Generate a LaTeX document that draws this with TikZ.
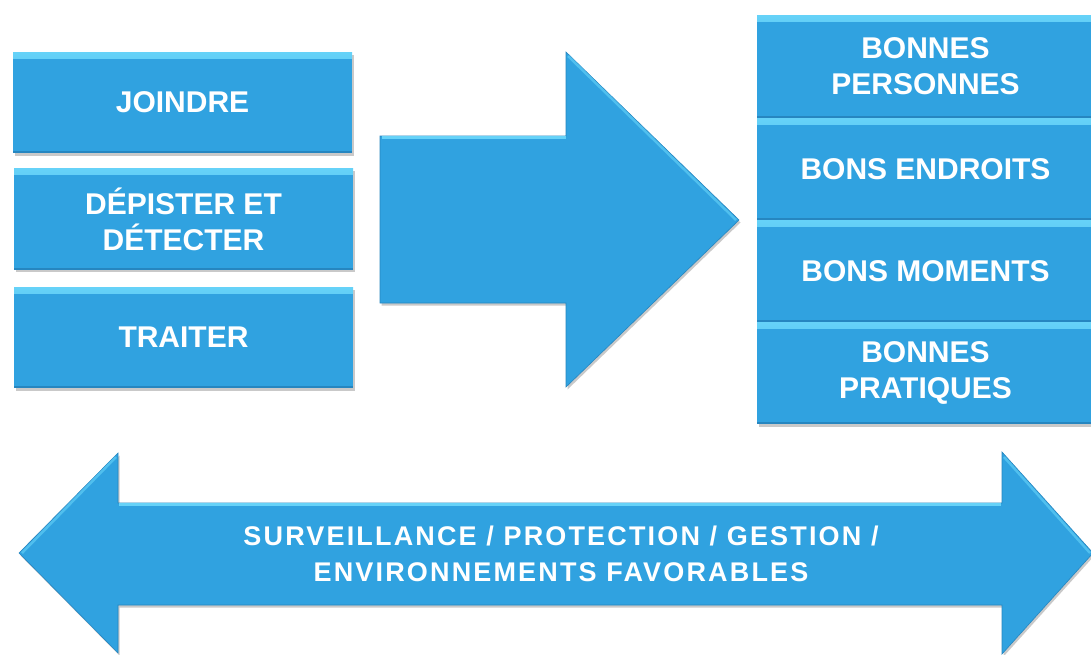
\documentclass[tikz,border=0pt]{standalone}
\usepackage{fontspec}
\setmainfont{Liberation Sans}
\usetikzlibrary{shadows}
\definecolor{cblue}{HTML}{30A2E0}
\definecolor{clight}{HTML}{66D2F8}
\definecolor{cdark}{HTML}{2686C0}
\tikzset{
  softshadow/.style={drop shadow={shadow xshift=1.5pt,shadow yshift=-2.5pt,opacity=0.35,fill=black!60}},
  blockbox/.style={softshadow, rectangle, fill=cblue, inner sep=0pt, align=center,
    text=white, font=\fontsize{30}{36}\selectfont\bfseries,
    path picture={
      \shade[top color=clight, bottom color=cblue]
        (path picture bounding box.north west) rectangle ([yshift=-6pt]path picture bounding box.north east);
      \fill[cdark] (path picture bounding box.south west) rectangle ([yshift=2pt]path picture bounding box.south east);
    }},
  leftbox/.style={blockbox, minimum width=339pt, minimum height=101pt},
  rightbox/.style={blockbox, minimum width=337pt, minimum height=102pt},
  bigarrow/.style={softshadow, fill=cblue, draw=cdark, line width=0.6pt, line join=miter},
  bevel/.style={draw=clight, line width=2.5pt, line cap=butt},
  bandtext/.style={text=white, align=center, font=\fontsize{27}{36}\selectfont\bfseries\addfontfeature{LetterSpace=8}},
}
\begin{document}
\begin{tikzpicture}[x=1pt,y=-1pt]
\clip (0,0) rectangle (1091,654);
\fill[white] (0,0) rectangle (1091,654);

% left column
\node[leftbox] (joindre) at (182.5,102.5) {JOINDRE};
\node[leftbox] (depister) at (183.5,219) {DÉPISTER ET\\DÉTECTER};
\node[leftbox] (traiter) at (183.5,337.5) {TRAITER};

% middle arrow
\path[bigarrow] (380,136) -- (566,136) -- (566,52) -- (739,220) -- (566,387) -- (566,303) -- (380,303) -- cycle;
\draw[bevel] (381.5,137.5) -- (566,137.5);
\draw[bevel, draw=clight!60!cblue] (568,56) -- (736,220);

% right column
\node[rightbox] (personnes) at (925.5,66.5) {BONNES\\PERSONNES};
\node[rightbox] (endroits) at (925.5,169) {BONS ENDROITS};
\node[rightbox] (moments) at (925.5,271) {BONS MOMENTS};
\node[rightbox] (pratiques) at (925.5,373) {BONNES\\PRATIQUES};

% bottom double arrow
\path[bigarrow] (19,553) -- (118,453) -- (118,503) -- (1002,503) -- (1002,452) -- (1093,553) -- (1002,654) -- (1002,605) -- (118,605) -- (118,653) -- cycle;
\draw[bevel] (119,504.5) -- (1001,504.5);
\draw[bevel, draw=clight!60!cblue] (1004,457) -- (1090,553);
\draw[bevel, draw=clight!60!cblue] (22,553) -- (116,457);
\node[bandtext] (surv) at (561,554) {SURVEILLANCE / PROTECTION / GESTION /\\ENVIRONNEMENTS FAVORABLES};
\end{tikzpicture}
\end{document}
